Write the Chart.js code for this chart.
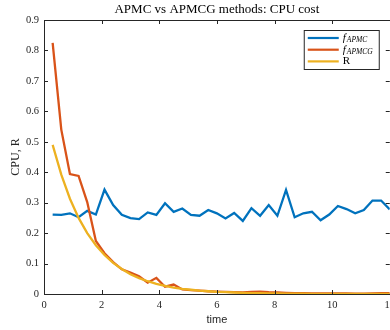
<!DOCTYPE html>
<html>
<head>
<meta charset="utf-8">
<script src="https://cdn.jsdelivr.net/npm/chart.js@4.4.1/dist/chart.umd.min.js"></script>
<style>
  html, body { margin: 0; padding: 0; background: #fff; overflow: hidden; }
  #wrap { width: 400px; height: 330px; }
</style>
</head>
<body>
<div id="wrap"><canvas id="cpuChart" width="400" height="330"></canvas></div>
<script>
// sample times
const timeVals = [0.3, 0.6, 0.9, 1.2, 1.5, 1.8, 2.1, 2.4, 2.7, 3.0,
  3.3, 3.6, 3.9, 4.2, 4.5, 4.8, 5.1, 5.4, 5.7, 6.0,
  6.3, 6.6, 6.9, 7.2, 7.5, 7.8, 8.1, 8.4, 8.7, 9.0,
  9.3, 9.6, 9.9, 10.2, 10.5, 10.8, 11.1, 11.4, 11.7, 12.0];

// CPU cost of APMC
const fApmc = [0.261, 0.260, 0.265, 0.252, 0.273, 0.261, 0.343, 0.292, 0.260, 0.249,
  0.246, 0.268, 0.260, 0.298, 0.270, 0.281, 0.260, 0.257, 0.276, 0.265,
  0.248, 0.266, 0.240, 0.282, 0.257, 0.292, 0.257, 0.342, 0.252, 0.265,
  0.270, 0.242, 0.261, 0.289, 0.279, 0.265, 0.276, 0.307, 0.307, 0.278];

// CPU cost of APMCG
const fApmcg = [0.825, 0.540, 0.394, 0.388, 0.302, 0.174, 0.134, 0.105, 0.081, 0.070,
  0.058, 0.037, 0.053, 0.024, 0.031, 0.015, 0.013, 0.011, 0.009, 0.008,
  0.007, 0.006, 0.005, 0.007, 0.008, 0.006, 0.005, 0.004, 0.003, 0.003,
  0.002, 0.002, 0.002, 0.002, 0.002, 0.001, 0.001, 0.002, 0.003, 0.003];

// ratio R
const rVals = [0.490, 0.392, 0.313, 0.250, 0.200, 0.160, 0.128, 0.102, 0.082, 0.065,
  0.052, 0.042, 0.033, 0.027, 0.021, 0.017, 0.014, 0.011, 0.009, 0.007,
  0.006, 0.005, 0.004, 0.003, 0.0025, 0.002, 0.0016, 0.0013, 0.001, 0.0008,
  0.0007, 0.0005, 0.0004, 0.0003, 0.0003, 0.0002, 0.0002, 0.0001, 0.0001, 0.0001];

const seriesNames = ["f_APMC", "f_APMCG", "R"];
const seriesColors = ["#0072BD", "#D95319", "#EDB120"];

const xTicks = [0, 2, 4, 6, 8, 10, 12];
const yTicks = [0, 0.1, 0.2, 0.3, 0.4, 0.5, 0.6, 0.7, 0.8, 0.9];

const axisColor = "#262626";
const serif = "'Liberation Serif', 'Times New Roman', serif";

const toPoints = (vals) => vals.map((v, i) => ({ x: timeVals[i], y: v }));

// box round the axes with inward ticks on all four sides
const boxPlugin = {
  id: "box",
  afterDatasetsDraw(chart) {
    const { ctx, chartArea: a, scales } = chart;
    const len = 4;
    ctx.save();
    ctx.strokeStyle = axisColor;
    ctx.lineWidth = 1;
    ctx.beginPath();
    xTicks.forEach((t) => {
      const px = Math.round(scales.x.getPixelForValue(t)) + 0.5;
      ctx.moveTo(px, a.bottom); ctx.lineTo(px, a.bottom - len);
      ctx.moveTo(px, a.top); ctx.lineTo(px, a.top + len);
    });
    yTicks.forEach((t) => {
      const py = Math.round(scales.y.getPixelForValue(t)) + 0.5;
      ctx.moveTo(a.left, py); ctx.lineTo(a.left + len, py);
      ctx.moveTo(a.right, py); ctx.lineTo(a.right - len, py);
    });
    ctx.stroke();
    ctx.strokeRect(Math.round(a.left) + 0.5, Math.round(a.top) + 0.5,
      Math.round(a.right - a.left), Math.round(a.bottom - a.top));
    ctx.restore();
  }
};

// legend with italic subscripted names
const legendPlugin = {
  id: "subLegend",
  afterDraw(chart) {
    const { ctx, chartArea: a } = chart;
    const w = 75, h = 39;
    const left = a.right - 86, top = a.top + 10;
    ctx.save();
    ctx.fillStyle = "#fff";
    ctx.fillRect(left, top, w, h);
    ctx.strokeStyle = axisColor;
    ctx.lineWidth = 1;
    ctx.strokeRect(left + 0.5, top + 0.5, w, h);
    chart.data.datasets.forEach((ds, i) => {
      const y = top + 8 + i * 11.7;
      ctx.strokeStyle = ds.borderColor;
      ctx.lineWidth = 2.2;
      ctx.beginPath();
      ctx.moveTo(left + 4, y);
      ctx.lineTo(left + 35, y);
      ctx.stroke();
      ctx.fillStyle = "#000";
      ctx.textBaseline = "middle";
      ctx.textAlign = "left";
      const parts = ds.label.split("_");
      if (parts.length > 1) {
        ctx.font = "italic 11px " + serif;
        ctx.fillText(parts[0], left + 39, y);
        const fw = ctx.measureText(parts[0]).width;
        ctx.font = "italic 7.5px " + serif;
        ctx.fillText(parts[1], left + 40 + fw, y + 2.5);
      } else {
        ctx.font = "11px " + serif;
        ctx.fillText(ds.label, left + 39, y);
      }
    });
    ctx.restore();
  }
};

const datasets = [fApmc, fApmcg, rVals].map((vals, i) => ({
  label: seriesNames[i],
  data: toPoints(vals),
  borderColor: seriesColors[i],
  backgroundColor: seriesColors[i],
  borderWidth: 2.3,
  pointRadius: 0,
  tension: 0,
  order: 3 - i
}));

new Chart(document.getElementById("cpuChart"), {
  type: "line",
  data: { datasets: datasets },
  options: {
    responsive: false,
    animation: false,
    layout: { padding: { left: 0, right: 8, top: 0, bottom: 0 } },
    plugins: {
      legend: { display: false },
      tooltip: { enabled: false },
      title: {
        display: true,
        fullSize: false,
        text: "APMC vs APMCG methods: CPU cost",
        color: "#000",
        font: { family: serif, size: 13, weight: "normal", lineHeight: 1.2 },
        padding: { top: 2, bottom: 2.4 }
      }
    },
    scales: {
      x: {
        type: "linear",
        min: 0,
        max: 12,
        grid: { display: false, drawTicks: false },
        border: { display: false },
        afterBuildTicks: (scale) => { scale.ticks = xTicks.map((v) => ({ value: v })); },
        afterFit: (scale) => { scale.height = 36; },
        ticks: {
          color: axisColor,
          padding: 5,
          maxRotation: 0,
          font: { family: serif, size: 10.5 }
        },
        title: {
          display: true,
          text: "time",
          color: axisColor,
          font: { family: "'Liberation Sans', Arial, sans-serif", size: 11 },
          padding: { top: 0, bottom: 3 }
        }
      },
      y: {
        min: 0,
        max: 0.9,
        grid: { display: false, drawTicks: false },
        border: { display: false },
        afterBuildTicks: (scale) => { scale.ticks = yTicks.map((v) => ({ value: v })); },
        afterFit: (scale) => { scale.width = 44; },
        ticks: {
          color: axisColor,
          padding: 5,
          font: { family: serif, size: 10.5 },
          callback: (v) => (v === 0 ? "0" : v.toFixed(1))
        },
        title: {
          display: true,
          text: "CPU, R",
          color: axisColor,
          font: { family: serif, size: 12 },
          padding: { top: 9, bottom: 0 }
        }
      }
    }
  },
  plugins: [boxPlugin, legendPlugin]
});
</script>
</body>
</html>
